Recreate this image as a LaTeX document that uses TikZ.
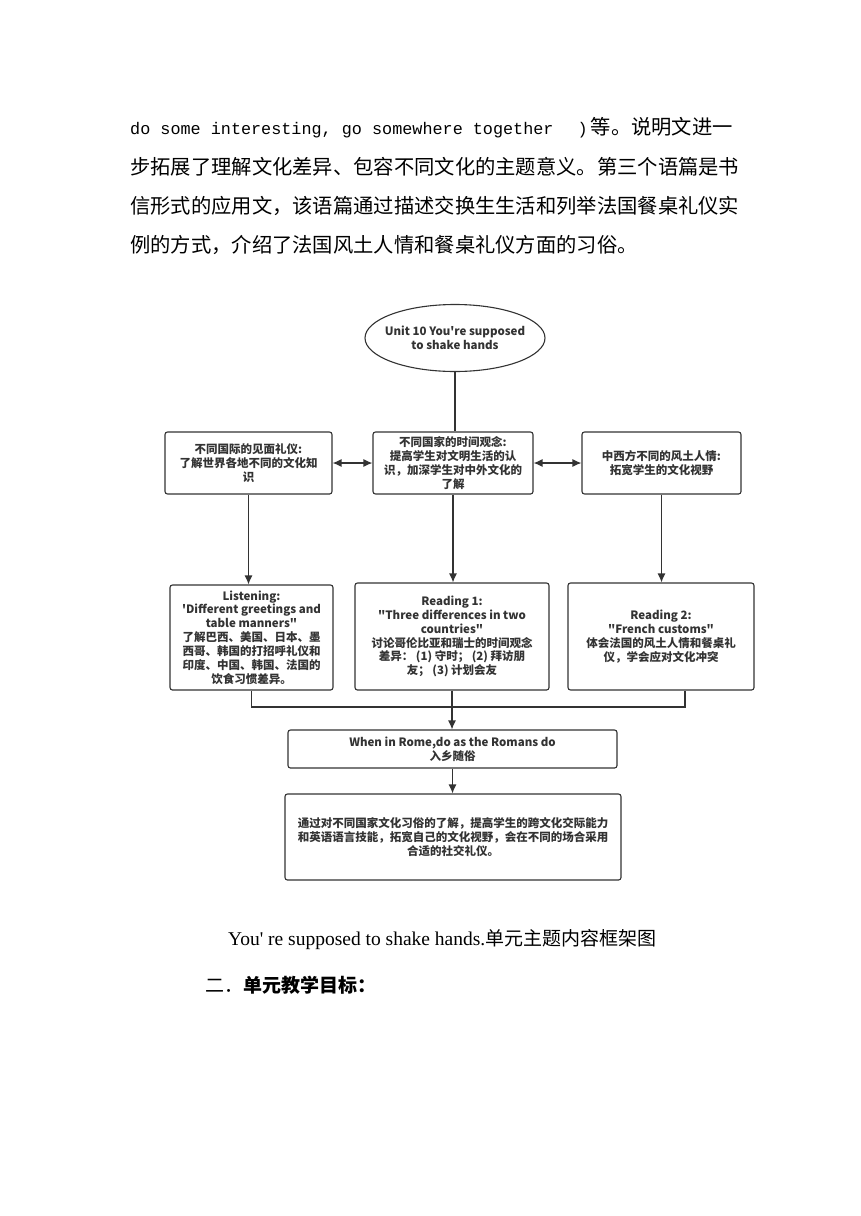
\documentclass[tikz,border=0pt]{standalone}
\usepackage{fontspec}
\usepackage{tikz}
\usetikzlibrary{arrows.meta,shapes.geometric}
\newfontfamily\cjk{Noto Sans CJK SC}
\newfontfamily\monolatin{Liberation Mono}
\newfontfamily\seriflatin{Liberation Serif}
\newcommand{\diagfont}{\cjk\bfseries\fontsize{11.5}{13.9}\selectfont}
\newcommand{\bodyfont}{\cjk\fontsize{20.3}{24}\selectfont}
\definecolor{inkgray}{HTML}{333333}

\tikzset{
  box/.style={draw=inkgray, line width=1.1pt, rounded corners=2.5pt, align=center, font=\diagfont, text=inkgray, inner sep=0pt},
  link/.style={draw=inkgray, line width=1.2pt},
  arr/.style={link, -{Latex[length=9pt,width=8pt]}},
  darr/.style={link, {Latex[length=9pt,width=8pt]}-{Latex[length=9pt,width=8pt]}},
  para/.style={anchor=west, inner sep=0pt, font=\bodyfont}
}

\begin{document}
\begin{tikzpicture}[x=1pt,y=-1pt]
  \useasboundingbox[fill=white] (0,0) rectangle (860,1216);
  % paragraph above the chart
  \node[para] (line1) at (130,128) {{\monolatin\fontsize{16.8}{20}\selectfont do some interesting, go somewhere together\hspace*{24pt})}\hspace*{3pt}等。说明文进一};
  \node[para] (line2) at (130,167) {步拓展了理解文化差异、包容不同文化的主题意义。第三个语篇是书};
  \node[para] (line3) at (130,206) {信形式的应用文，该语篇通过描述交换生生活和列举法国餐桌礼仪实};
  \node[para] (line4) at (130,245) {例的方式，介绍了法国风土人情和餐桌礼仪方面的习俗。};

  % chart
  \node[box, ellipse, inner xsep=-12pt, minimum width=180, minimum height=67] (unit) at (455,338) {Unit 10 You're supposed\\to shake hands};
  \node[box, minimum width=167, minimum height=62] (meet) at (248.5,463) {不同国际的见面礼仪:\\了解世界各地不同的文化知\\识};
  \node[box, minimum width=160, minimum height=62] (time) at (453,463) {不同国家的时间观念:\\提高学生对文明生活的认\\识，加深学生对中外文化的\\了解};
  \node[box, minimum width=159, minimum height=62] (custom) at (661.5,463) {中西方不同的风土人情:\\拓宽学生的文化视野};
  \node[box, minimum width=163, minimum height=105] (listen) at (251.5,637.5) {Listening:\\'Different greetings and\\table manners"\\了解巴西、美国、日本、墨\\西哥、韩国的打招呼礼仪和\\印度、中国、韩国、法国的\\饮食习惯差异。};
  \node[box, minimum width=194, minimum height=107] (read1) at (452,636.5) {Reading 1:\\"Three differences in two\\countries"\\讨论哥伦比亚和瑞士的时间观念\\差异： (1) 守时； (2) 拜访朋\\友； (3) 计划会友};
  \node[box, minimum width=186, minimum height=107] (read2) at (661,636.5) {Reading 2:\\"French customs"\\体会法国的风土人情和餐桌礼\\仪，学会应对文化冲突};
  \node[box, minimum width=329, minimum height=38] (rome) at (452.5,749) {When in Rome,do as the Romans do\\入乡随俗};
  \node[box, minimum width=336, minimum height=86] (goal) at (453,837) {通过对不同国家文化习俗的了解，提高学生的跨文化交际能力\\和英语语言技能，拓宽自己的文化视野，会在不同的场合采用\\合适的社交礼仪。};
  \coordinate (joinR) at (685,707);

  \draw[link] (unit.south) -- (unit.south |- time.north);
  \draw[darr] (meet.east) -- (time.west);
  \draw[darr] (time.east) -- (custom.west);
  \draw[arr] (meet.south) -- (meet.south |- listen.north);
  \draw[arr] (time.south) -- (time.south |- read1.north);
  \draw[arr] (custom.south) -- (custom.south |- read2.north);
  \draw[link] (listen.south) |- (joinR) -- (read2.south -| joinR);
  \draw[arr] (read1.south) -- (read1.south |- rome.north);
  \draw[arr] (rome.south) -- (rome.south |- goal.north);

  % caption and next heading
  \node[anchor=west, inner sep=0pt] (caption) at (228,940) {{\seriflatin\fontsize{19.5}{22}\selectfont You' re supposed to shake hands.}{\cjk\fontsize{19}{22}\selectfont 单元主题内容框架图}};
  \node[anchor=west, inner sep=0pt] (nexthead) at (205,985) {\cjk\fontsize{19}{22}\selectfont 二．{\bfseries 单元教学目标：}};
\end{tikzpicture}
\end{document}
